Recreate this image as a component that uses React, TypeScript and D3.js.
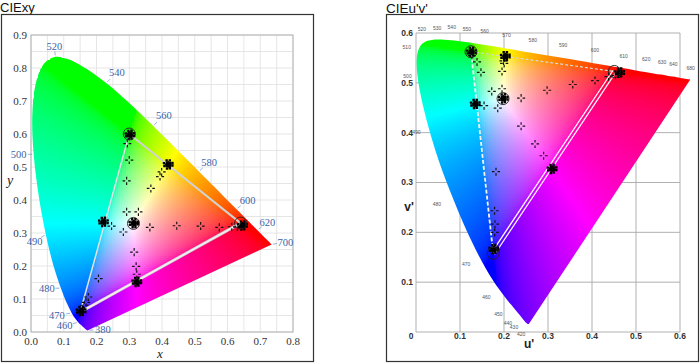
import * as d3 from "d3";
import React, { useMemo } from "react";

// CIE 1931 2° spectral locus (chromaticity x, y)
const nm = [380,385,390,395,400,405,410,415,420,425,430,435,440,445,450,455,460,465,470,475,480,485,490,495,500,505,510,515,520,525,530,535,540,545,550,555,560,565,570,575,580,585,590,595,600,605,610,615,620,625,630,635,640,645,650,655,660,665,670,680,690,700];
const locusX = [0.1741,0.1740,0.1738,0.1736,0.1733,0.1730,0.1726,0.1721,0.1714,0.1703,0.1689,0.1669,0.1644,0.1611,0.1566,0.1510,0.1440,0.1355,0.1241,0.1096,0.0913,0.0687,0.0454,0.0235,0.0082,0.0039,0.0139,0.0389,0.0743,0.1142,0.1547,0.1929,0.2296,0.2658,0.3016,0.3373,0.3731,0.4087,0.4441,0.4788,0.5125,0.5448,0.5752,0.6029,0.6270,0.6482,0.6658,0.6801,0.6915,0.7006,0.7079,0.7140,0.7190,0.7230,0.7260,0.7283,0.7300,0.7311,0.7320,0.7334,0.7344,0.7347];
const locusY = [0.0050,0.0050,0.0049,0.0049,0.0048,0.0048,0.0048,0.0048,0.0051,0.0058,0.0069,0.0086,0.0109,0.0138,0.0177,0.0227,0.0297,0.0399,0.0578,0.0868,0.1327,0.2007,0.2950,0.4127,0.5384,0.6548,0.7502,0.8120,0.8338,0.8262,0.8059,0.7816,0.7543,0.7243,0.6923,0.6589,0.6245,0.5896,0.5547,0.5202,0.4866,0.4544,0.4242,0.3965,0.3725,0.3514,0.3340,0.3197,0.3083,0.2993,0.2920,0.2859,0.2809,0.2770,0.2740,0.2717,0.2700,0.2689,0.2680,0.2666,0.2656,0.2653];

// sRGB gamut triangle: red, green, blue
const gamutX = [0.64, 0.30, 0.15];
const gamutY = [0.33, 0.60, 0.06];

// circled reference points: green, white, red, blue
const refX = [0.30, 0.3127, 0.64, 0.15];
const refY = [0.60, 0.329, 0.33, 0.06];

// measured primaries / secondaries (heavy clusters)
const clusterX = [0.302, 0.419, 0.646, 0.323, 0.153, 0.221, 0.314];
const clusterY = [0.598, 0.508, 0.323, 0.152, 0.064, 0.334, 0.330];

// other measured points
const testX = [0.294, 0.300, 0.292, 0.366, 0.399, 0.394, 0.292, 0.328, 0.363, 0.445, 0.518, 0.575, 0.613, 0.630, 0.246, 0.282, 0.315, 0.321, 0.323, 0.206, 0.175, 0.168, 0.163];
const testY = [0.571, 0.521, 0.458, 0.435, 0.485, 0.471, 0.364, 0.364, 0.317, 0.322, 0.321, 0.317, 0.319, 0.318, 0.321, 0.303, 0.242, 0.199, 0.175, 0.162, 0.106, 0.090, 0.081];

// wavelength labels (nm), with label direction (deg) and distance (px)
const xyLabelNm = [380, 460, 470, 480, 490, 500, 520, 540, 560, 580, 600, 620, 700];
const xyLabelAngle = [-5, 165, 170, 180, 150, 180, -95, -45, -45, -42, -37, -40, -10];
const xyLabelDist = [15, 14, 15, 14, 13, 15, 11, 15, 15, 14, 14, 13, 14];

const uvLabelNm = [420, 430, 440, 450, 460, 470, 480, 490, 500, 510, 520, 530, 540, 550, 560, 570, 580, 590, 600, 610, 620, 630, 640, 680];
const uvLabelAngle = [119, 149, 144, 142, 145, 152, 156, 157, 180, 200, -109, -95, -86, -84, -84, -84, -84, -84, -84, -84, -84, -84, -86, -80];
const uvLabelDist = [12, 12, 14, 16, 15, 15, 17, 13, 10, 12, 13, 11, 13, 13, 13, 13, 13, 13, 13, 12, 13, 12, 12, 11];

const xyTicksX = [0, 0.1, 0.2, 0.3, 0.4, 0.5, 0.6, 0.7, 0.8];
const xyTicksY = [0, 0.1, 0.2, 0.3, 0.4, 0.5, 0.6, 0.7, 0.8, 0.9];
const uvTicks = [0.1, 0.2, 0.3, 0.4, 0.5, 0.6];

type P = [number, number];

const toUV = (x: number, y: number): P => {
  const d = -2 * x + 12 * y + 3;
  return [(4 * x) / d, (9 * y) / d];
};
const fromUV = (u: number, v: number): P => {
  const d = 6 * u - 16 * v + 12;
  return [(9 * u) / d, (4 * v) / d];
};

const gam = (c: number) => (c <= 0.0031308 ? 12.92 * c : 1.055 * Math.pow(c, 1 / 2.4) - 0.055);

function chroma(x: number, y: number) {
  const X = x / y, Y = 1, Z = (1 - x - y) / y;
  let r = 3.2406 * X - 1.5372 * Y - 0.4986 * Z;
  let g = -0.9689 * X + 1.8758 * Y + 0.0415 * Z;
  let b = 0.0557 * X - 0.204 * Y + 1.057 * Z;
  r = Math.max(0, r); g = Math.max(0, g); b = Math.max(0, b);
  const m = Math.max(r, g, b) || 1;
  return d3.rgb(gam(r / m) * 255, gam(g / m) * 255, gam(b / m) * 255).formatHex();
}

const xs = d3.scaleLinear().domain([0, 0.8]).range([31, 293]);
const ys = d3.scaleLinear().domain([0, 0.9]).range([332, 35]);
const us = d3.scaleLinear().domain([0, 0.6]).range([416, 680]);
const vs = d3.scaleLinear().domain([0, 0.6]).range([332, 33]);

const projXY = (x: number, y: number): P => [xs(x), ys(y)];
const projUV = (x: number, y: number): P => {
  const [u, v] = toUV(x, y);
  return [us(u), vs(v)];
};
const invXY = (px: number, py: number): P => [xs.invert(px), ys.invert(py)];
const invUV = (px: number, py: number): P => fromUV(us.invert(px), Math.max(0.0005, vs.invert(py)));

function buildCells(proj: (x: number, y: number) => P, inv: (a: number, b: number) => P, cell: number) {
  const poly = nm.map((_, i) => proj(locusX[i], locusY[i]));
  const [x0, x1] = d3.extent(poly, (p) => p[0]) as [number, number];
  const [y0, y1] = d3.extent(poly, (p) => p[1]) as [number, number];
  const out: { px: number; py: number; fill: string }[] = [];
  for (let px = Math.floor(x0) - cell; px <= x1 + cell; px += cell) {
    for (let py = Math.floor(y0) - cell; py <= y1 + cell; py += cell) {
      const pts: P[] = [[px, py], [px + cell, py], [px, py + cell], [px + cell, py + cell], [px + cell / 2, py + cell / 2]];
      if (!pts.some((p) => d3.polygonContains(poly, p))) continue;
      const [x, y] = inv(px + cell / 2, py + cell / 2);
      out.push({ px, py, fill: chroma(x, Math.max(y, 0.0005)) });
    }
  }
  return out;
}

function locusPath(proj: (x: number, y: number) => P) {
  const pts = nm.map((_, i) => proj(locusX[i], locusY[i]));
  return (d3.line().curve(d3.curveCatmullRom)(pts) || "") + "Z";
}

const star = "M0,-4.5V-1.6M0,1.6V4.5M-4.5,0H-1.6M1.6,0H4.5";
const clusterOffsets: P[] = [[-1.6, -1.2], [1.6, 1.2], [1.6, -1.4], [-1.2, 1.6]];

function Markers({ proj, circles }: { proj: (x: number, y: number) => P; circles: number }) {
  return (
    <g>
      {testX.map((x, i) => {
        const [px, py] = proj(x, testY[i]);
        return <path key={"t" + i} d={star} transform={`translate(${px},${py}) scale(0.9)`} stroke="#111" strokeWidth={1.3} fill="none" />;
      })}
      {clusterX.map((x, i) => {
        const [px, py] = proj(x, clusterY[i]);
        return (
          <g key={"c" + i} transform={`translate(${px},${py})`}>
            <rect x={-2.5} y={-2.5} width={5} height={5} fill="#000" transform="rotate(45)" />
            {clusterOffsets.map((o, j) => (
              <path key={j} d={star} transform={`translate(${o[0]},${o[1]}) scale(0.85)`} stroke="#000" strokeWidth={2.8} fill="none" />
            ))}
          </g>
        );
      })}
      {refX.slice(0, circles).map((x, i) => {
        const [px, py] = proj(x, refY[i]);
        return <circle key={"r" + i} cx={px} cy={py} r={6} fill="none" stroke="#222" strokeWidth={0.9} />;
      })}
    </g>
  );
}

function WaveLabels({ proj, labels, angles, dists, color, size, font, tick }: any) {
  return (
    <g>
      {labels.map((w: number, i: number) => {
        const k = nm.indexOf(w);
        const [px, py] = proj(locusX[k], locusY[k]);
        const a = (angles[i] * Math.PI) / 180;
        const dx = Math.cos(a), dy = Math.sin(a);
        return (
          <g key={w}>
            {tick && <line x1={px + dx * 1.5} y1={py + dy * 1.5} x2={px + dx * 5.5} y2={py + dy * 5.5} stroke="#7d9ccc" strokeWidth={0.8} />}
            <text x={px + dx * dists[i]} y={py + dy * dists[i]} dy="0.35em" textAnchor="middle" fontSize={size} fontFamily={font} fill={color}>
              {w}
            </text>
          </g>
        );
      })}
    </g>
  );
}

export default function App() {
  const cellsXY = useMemo(() => buildCells(projXY, invXY, 2), []);
  const cellsUV = useMemo(() => buildCells(projUV, invUV, 2), []);
  const pathXY = locusPath(projXY);
  const pathUV = locusPath(projUV);

  const [rX, gX, bX] = gamutX.map((x, i) => projXY(x, gamutY[i]));
  const [rU, gU, bU] = gamutX.map((x, i) => projUV(x, gamutY[i]));
  const len = Math.hypot(rU[0] - bU[0], rU[1] - bU[1]);
  const nx = -(rU[1] - bU[1]) / len, ny = (rU[0] - bU[0]) / len;

  const serif = "'Liberation Serif', 'DejaVu Serif', serif";
  const sans = "'Liberation Sans', Arial, sans-serif";

  return (
    <svg width={700} height={363} style={{ position: "absolute", left: 0, top: 0, background: "#fff" }}>
      <defs>
        <clipPath id="clipXY"><path d={pathXY} /></clipPath>
        <clipPath id="clipUV"><path d={pathUV} /></clipPath>
      </defs>

      {/* ---------- CIE xy ---------- */}
      <text x={0} y={11.5} fontSize={13} fontFamily={sans} fill="#111">CIExy</text>
      <rect x={1.5} y={14.5} width={312} height={347} fill="none" stroke="#333" strokeWidth={1.2} />
      <g>
        {d3.range(0, 0.8001, 0.05).map((t) => (
          <line key={"gx" + t} x1={xs(t)} x2={xs(t)} y1={ys(0)} y2={ys(0.9)} stroke="#e0e0e0" strokeWidth={0.8} />
        ))}
        {d3.range(0, 0.9001, 0.05).map((t) => (
          <line key={"gy" + t} x1={xs(0)} x2={xs(0.8)} y1={ys(t)} y2={ys(t)} stroke="#e0e0e0" strokeWidth={0.8} />
        ))}
        <rect x={xs(0)} y={ys(0.9)} width={xs(0.8) - xs(0)} height={ys(0) - ys(0.9)} fill="none" stroke="#b0b0b0" />
      </g>
      <g clipPath="url(#clipXY)" shapeRendering="crispEdges">
        {cellsXY.map((c, i) => <rect key={i} x={c.px} y={c.py} width={2} height={2} fill={c.fill} />)}
      </g>
      <line x1={gX[0]} y1={gX[1]} x2={rX[0]} y2={rX[1]} stroke="#d2d2d2" strokeWidth={2} />
      <line x1={bX[0]} y1={bX[1]} x2={rX[0]} y2={rX[1]} stroke="#c8c8c8" strokeWidth={3} />
      <line x1={bX[0]} y1={bX[1]} x2={rX[0]} y2={rX[1]} stroke="#f6eef4" strokeWidth={1.6} />
      <line x1={bX[0]} y1={bX[1]} x2={gX[0]} y2={gX[1]} stroke="#e2e2e2" strokeWidth={1.5} />
      <Markers proj={projXY} circles={3} />
      <WaveLabels proj={projXY} labels={xyLabelNm} angles={xyLabelAngle} dists={xyLabelDist} color="#3b64a8" size={10.5} font={serif} tick />
      {xyTicksX.map((t) => (
        <text key={"tx" + t} x={xs(t)} y={345} textAnchor="middle" fontSize={11} fontFamily={serif} fill="#333">{d3.format(".1f")(t)}</text>
      ))}
      {xyTicksY.map((t) => (
        <text key={"ty" + t} x={27} y={ys(t)} dy="0.35em" textAnchor="end" fontSize={11} fontFamily={serif} fill="#333">{d3.format(".1f")(t)}</text>
      ))}
      <text x={160} y={358} textAnchor="middle" fontSize={13} fontStyle="italic" fontFamily={serif} fill="#222">x</text>
      <text x={10} y={185} textAnchor="middle" fontSize={14} fontStyle="italic" fontFamily={serif} fill="#222">y</text>

      {/* ---------- CIE u'v' ---------- */}
      <text x={386} y={12.5} fontSize={13.5} fontFamily={sans} fill="#111">CIEu'v'</text>
      <rect x={386.5} y={14.5} width={312} height={347} fill="none" stroke="#333" strokeWidth={1.2} />
      <g>
        {[0, ...uvTicks].map((t) => (
          <line key={"gu" + t} x1={us(t)} x2={us(t)} y1={vs(0)} y2={vs(0.6)} stroke="#a8a8a8" strokeWidth={0.9} />
        ))}
        {[0, ...uvTicks].map((t) => (
          <line key={"gv" + t} x1={us(0)} x2={us(0.6)} y1={vs(t)} y2={vs(t)} stroke="#a8a8a8" strokeWidth={0.9} />
        ))}
      </g>
      <g clipPath="url(#clipUV)" shapeRendering="crispEdges">
        {cellsUV.map((c, i) => <rect key={i} x={c.px} y={c.py} width={2} height={2} fill={c.fill} />)}
      </g>
      <line x1={gU[0]} y1={gU[1]} x2={rU[0]} y2={rU[1]} stroke="#d8d8d8" strokeWidth={1.2} strokeDasharray="3 2" />
      <line x1={bU[0]} y1={bU[1]} x2={gU[0]} y2={gU[1]} stroke="#f4f4f4" strokeWidth={1.8} strokeDasharray="4 2" />
      {[-1.7, 1.7].map((o) => (
        <line key={o} x1={bU[0] + nx * o} y1={bU[1] + ny * o} x2={rU[0] + nx * o} y2={rU[1] + ny * o} stroke="#fafafa" strokeWidth={1.3} />
      ))}
      <Markers proj={projUV} circles={4} />
      <WaveLabels proj={projUV} labels={uvLabelNm} angles={uvLabelAngle} dists={uvLabelDist} color="#555" size={5} font={sans} tick={false} />
      <text x={411} y={339} textAnchor="middle" fontSize={8.5} fontWeight="bold" fontFamily={sans} fill="#333">0</text>
      {uvTicks.map((t) => (
        <text key={"tu" + t} x={us(t)} y={339} textAnchor="middle" fontSize={8.5} fontWeight="bold" fontFamily={sans} fill="#333">{t.toFixed(1)}</text>
      ))}
      {uvTicks.map((t) => (
        <text key={"tv" + t} x={413} y={vs(t)} dy="0.35em" textAnchor="end" fontSize={8.5} fontWeight="bold" fontFamily={sans} fill="#333">{t.toFixed(1)}</text>
      ))}
      <text x={529} y={348} textAnchor="middle" fontSize={12} fontWeight="bold" fontFamily={sans} fill="#222">u'</text>
      <text x={409} y={211} textAnchor="middle" fontSize={12} fontWeight="bold" fontFamily={sans} fill="#222">v'</text>
    </svg>
  );
}
